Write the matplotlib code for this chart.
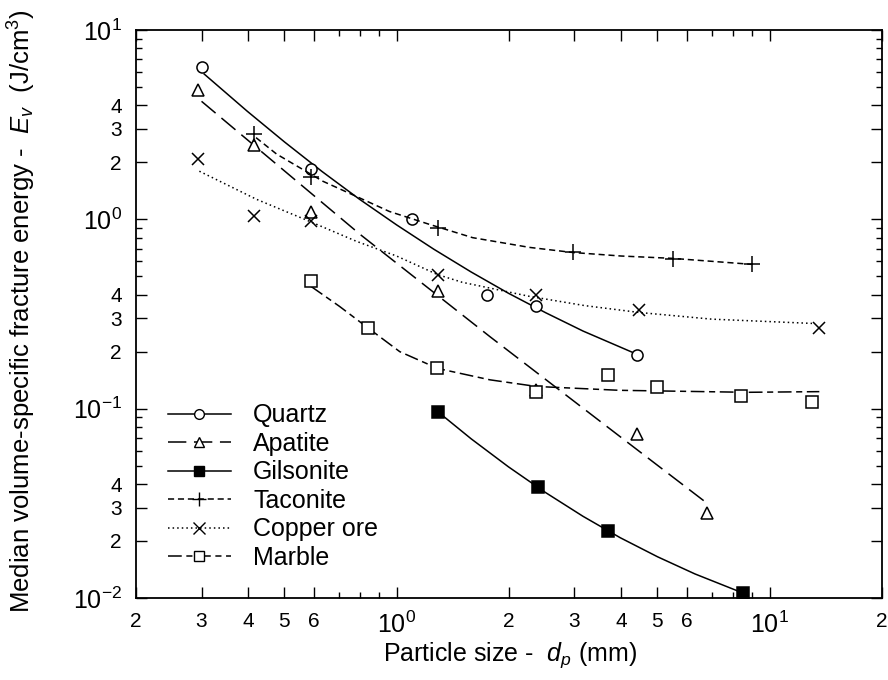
import numpy as np
import matplotlib
matplotlib.use("Agg")
import matplotlib.pyplot as plt
from matplotlib.ticker import FixedLocator, LogLocator, NullFormatter

plt.rcParams['font.family'] = ['Liberation Sans', 'DejaVu Sans']
plt.rcParams['mathtext.fontset'] = 'custom'
plt.rcParams['mathtext.rm'] = 'Liberation Sans'
plt.rcParams['mathtext.it'] = 'Liberation Sans:italic'

# measured points (particle size mm, energy J/cm3)
quartz_x = [0.30, 0.59, 1.10, 1.75, 2.37, 4.40]
quartz_y = [6.4, 1.84, 1.00, 0.40, 0.35, 0.193]
apatite_x = [0.293, 0.414, 0.59, 1.29, 2.37, 4.40, 6.78]
apatite_y = [4.8, 2.46, 1.09, 0.416, 0.126, 0.0738, 0.0282]
gilsonite_x = [1.29, 2.39, 3.70, 8.50]
gilsonite_y = [0.0964, 0.0386, 0.0226, 0.0106]
taconite_x = [0.416, 0.59, 1.29, 2.97, 5.5, 9.0]
taconite_y = [2.82, 1.67, 0.90, 0.67, 0.62, 0.578]
copper_x = [0.293, 0.416, 0.59, 1.29, 2.37, 4.48, 13.6]
copper_y = [2.08, 1.04, 0.975, 0.506, 0.40, 0.33, 0.268]
marble_x = [0.59, 0.836, 1.28, 2.37, 3.68, 4.98, 8.4, 13.0]
marble_y = [0.47, 0.268, 0.163, 0.123, 0.15, 0.13, 0.117, 0.109]

# fitted curves
quartz_fx = [0.305, 0.398, 0.501, 0.631, 0.794, 1.0, 1.259, 1.585, 1.995, 2.512, 3.162, 4.3]
quartz_fy = [5.85, 3.72, 2.56, 1.79, 1.28, 0.935, 0.695, 0.527, 0.407, 0.321, 0.257, 0.198]
apatite_fx = [0.30, 0.80, 1.78, 4.22, 6.78]
apatite_fy = [4.2, 0.83, 0.24, 0.065, 0.0318]
gilsonite_fx = [1.29, 1.585, 1.995, 2.512, 3.162, 3.981, 5.012, 6.31, 8.51]
gilsonite_fy = [0.0964, 0.0693, 0.0493, 0.0360, 0.0270, 0.0208, 0.0165, 0.0134, 0.0106]
taconite_fx = [0.42, 0.477, 0.634, 0.811, 0.957, 1.226, 1.6, 2.27, 2.97, 4.0, 5.5, 9.0]
taconite_fy = [2.7, 2.21, 1.59, 1.276, 1.10, 0.94, 0.80, 0.711, 0.668, 0.64, 0.622, 0.578]
copper_fx = [0.296, 0.421, 0.585, 0.781, 1.0, 1.29, 1.5, 2.27, 3.2, 4.48, 7.0, 13.0]
copper_fy = [1.795, 1.276, 0.975, 0.765, 0.64, 0.51, 0.465, 0.392, 0.35, 0.322, 0.297, 0.282]
marble_fx = [0.59, 0.703, 0.836, 1.02, 1.29, 1.78, 2.37, 3.96, 8.7, 13.6]
marble_fy = [0.442, 0.347, 0.268, 0.200, 0.163, 0.142, 0.131, 0.125, 0.122, 0.123]

fig = plt.figure(figsize=(8.88, 6.8), dpi=100)
ax = fig.add_axes([0.153, 0.1206, 0.840, 0.8353])
ax.set_xscale('log'); ax.set_yscale('log')
ax.set_xlim(0.2, 20); ax.set_ylim(0.01, 10)

lw = 1.1
series = [
    ('Quartz', quartz_x, quartz_y, quartz_fx, quartz_fy, 'o', 'white', '-', 8),
    ('Apatite', apatite_x, apatite_y, apatite_fx, apatite_fy, '^', 'white', (0, (12, 5)), 8),
    ('Gilsonite', gilsonite_x, gilsonite_y, gilsonite_fx, gilsonite_fy, 's', 'black', '-', 8),
    ('Taconite', taconite_x, taconite_y, taconite_fx, taconite_fy, '+', 'black', (0, (4, 2.5)), 11),
    ('Copper ore', copper_x, copper_y, copper_fx, copper_fy, 'x', 'black', (0, (1, 2)), 9),
    ('Marble', marble_x, marble_y, marble_fx, marble_fy, 's', 'white', (0, (9, 3, 4, 3)), 8),
]
handles = []
for name, x, y, fx, fy, mk, fc, ls, ms in series:
    ax.plot(fx, fy, color='black', lw=lw, ls=ls)
    ax.plot(x, y, ls='none', marker=mk, ms=ms, mfc=fc, mec='black', mew=1.1)
    h, = ax.plot([], [], color='black', lw=lw, ls=ls, marker=mk, ms=ms - 1,
                 mfc=fc, mec='black', mew=1.0, label=name)
    handles.append(h)

ax.legend(handles=handles, loc='lower left', bbox_to_anchor=(0.03, 0.032),
          frameon=False, fontsize=18, handlelength=2.5, labelspacing=0.18,
          handletextpad=0.9, borderaxespad=0.0)

# ticks
xmaj = [0.2, 0.3, 0.4, 0.5, 0.6, 1, 2, 3, 4, 5, 6, 10, 20]
xlab = ['2', '3', '4', '5', '6', r'10$^{\mathregular{0}}$', '2', '3', '4', '5', '6',
        r'10$^{\mathregular{1}}$', '2']
ymaj = [0.01, 0.02, 0.03, 0.04, 0.1, 0.2, 0.3, 0.4, 1, 2, 3, 4, 10]
ylab = [r'10$^{\mathregular{-2}}$', '2', '3', '4', r'10$^{\mathregular{-1}}$', '2', '3', '4',
        r'10$^{\mathregular{0}}$', '2', '3', '4', r'10$^{\mathregular{1}}$']
ax.xaxis.set_major_locator(FixedLocator(xmaj))
ax.set_xticklabels(xlab)
ax.yaxis.set_major_locator(FixedLocator(ymaj))
ax.set_yticklabels(ylab)
ax.xaxis.set_minor_locator(LogLocator(base=10, subs=np.arange(1, 10) * 1.0, numticks=20))
ax.yaxis.set_minor_locator(LogLocator(base=10, subs=np.arange(1, 10) * 1.0, numticks=20))
ax.xaxis.set_minor_formatter(NullFormatter())
ax.yaxis.set_minor_formatter(NullFormatter())
ax.tick_params(which='both', direction='in', top=True, right=True, labelsize=15, width=1.0)
ax.tick_params(which='major', length=8, pad=10)
ax.tick_params(which='minor', length=4)
for lab in ax.get_xticklabels() + ax.get_yticklabels():
    if '10' in lab.get_text():
        lab.set_fontsize(18)
for s in ax.spines.values():
    s.set_linewidth(1.3)

ax.set_xlabel(r'Particle size -  $d_p$ (mm)', fontsize=18, va='center')
ax.set_ylabel(r'Median volume-specific fracture energy -  $E_v$  (J/cm$^{\mathregular{3}}$)',
              fontsize=18.5, va='center')
ax.xaxis.set_label_coords(0.501, -0.10)
ax.yaxis.set_label_coords(-0.153, 0.504)

fig.savefig('out.png', dpi=100)
